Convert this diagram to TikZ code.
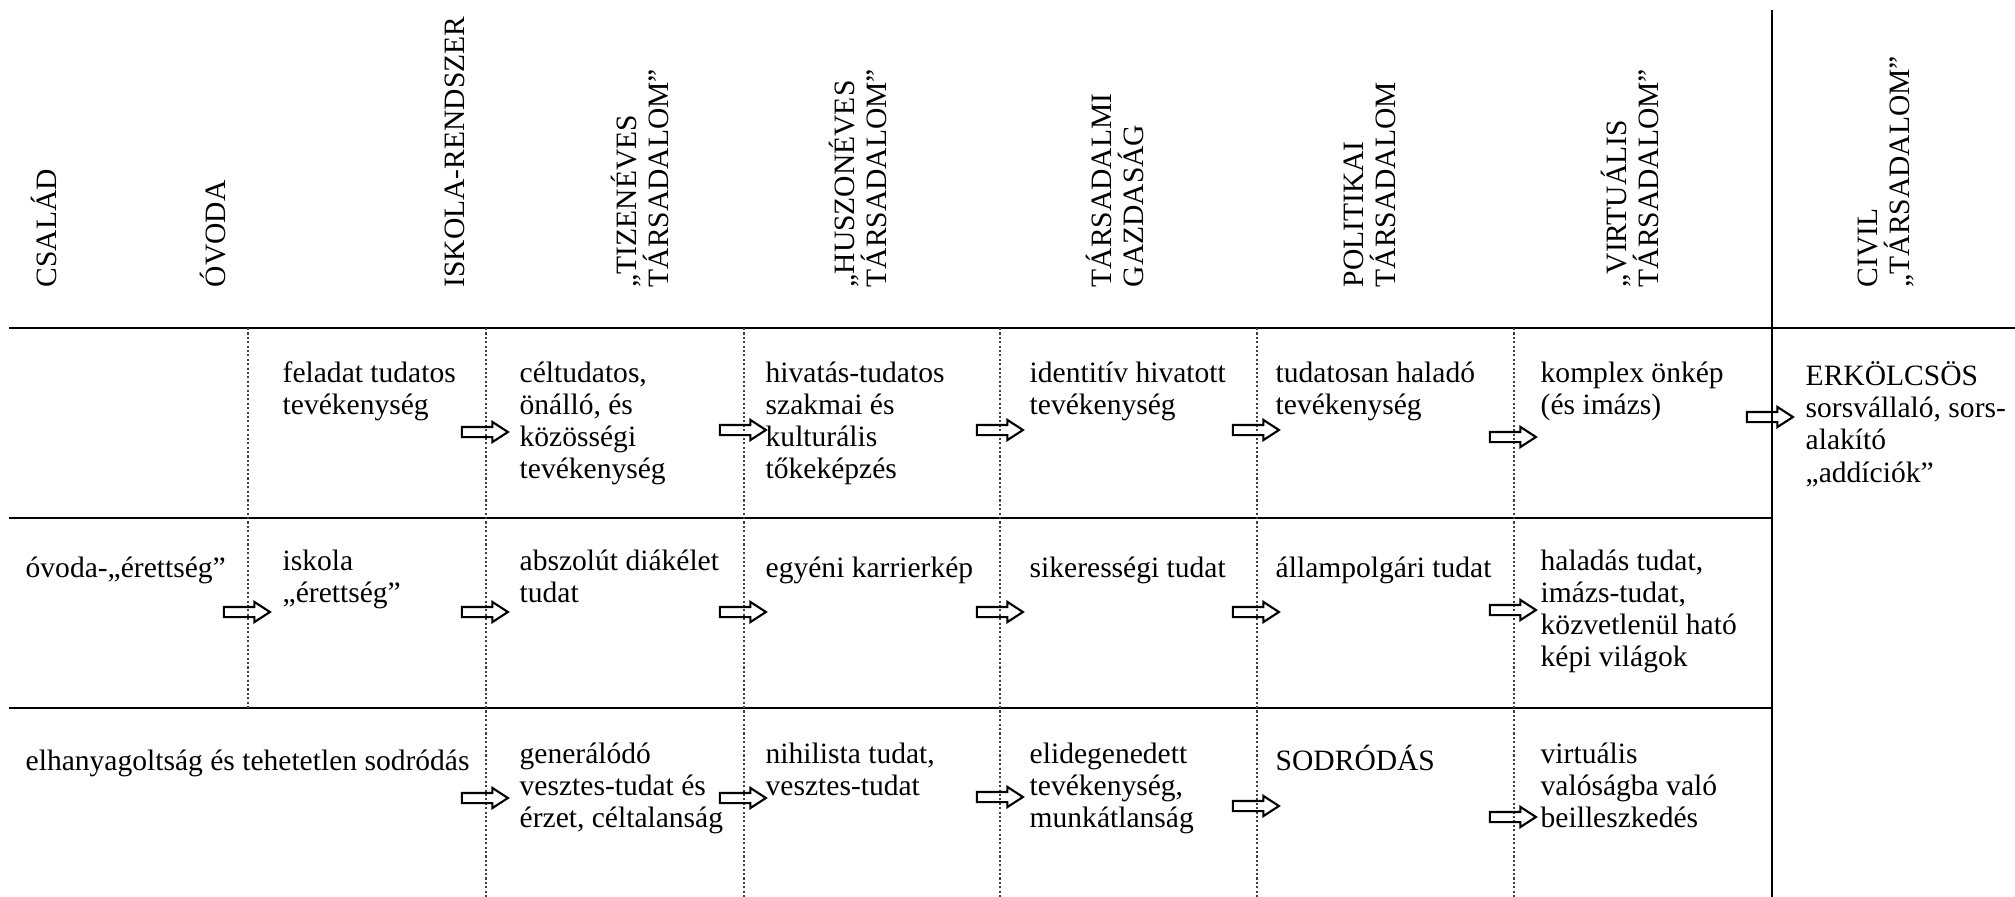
\documentclass[tikz,border=0pt]{standalone}
\usepackage{fontspec}
\setmainfont{Liberation Serif}
\usetikzlibrary{shapes.arrows}
\begin{document}
\begin{tikzpicture} [
                x=0.01cm, y=-0.01cm,
                every node/.style={font=\fontsize{8.4}{9.15}\selectfont, inner sep=0pt},
                head/.style={rotate=90, anchor=north west, align=left,
                    execute at begin node={\rule{0pt}{8pt}}},
                cell/.style={anchor=north west, yshift=8pt, align=left,
                    execute at begin node={\rule{0pt}{8pt}}},
                rule/.style={draw, line width=0.8pt},
                sep/.style={draw, line width=0.6pt, black!75, dash pattern=on 0.6pt off 0.65pt},
                shift arrow/.style={single arrow, draw, line width=0.6pt,
                    minimum height=0.46cm, inner xsep=0pt, inner ysep=0.04cm,
                    single arrow head extend=0.05cm, single arrow tip angle=66},
            ]
            \useasboundingbox (0,0) rectangle (2015,897);
            % First we draw the frame
            \coordinate (tl) at (9,328);
            \coordinate (tr) at (2015,328);
            \coordinate (civtop) at (1772,10);
            \coordinate (civbot) at (1772,897);
            \path[rule] (tl) -- (tr);
            \path[rule] (9,518) -- (1772,518);
            \path[rule] (9,708) -- (1772,708);
            \path[rule] (civtop) -- (civbot);
            % dotted column separators
            \path[sep] (248,328) -- (248,708);
            \foreach \x in {486, 744, 1000, 1257, 1514}
                \path[sep] (\x,328) -- (\x,897);
            % column heads
            \foreach \pos/\name/\txt in {
                    {(28,288)/csalad/CSALÁD}, {(197,288)/ovoda/ÓVODA},
                    {(436,288)/iskola/ISKOLA-RENDSZER},
                    {(610,288)/tizen/„TIZENÉVES\\TÁRSADALOM”},
                    {(828,288)/huszon/„HUSZONÉVES\\TÁRSADALOM”},
                    {(1085,288)/gazd/TÁRSADALMI\\GAZDASÁG},
                    {(1343,288)/polit/POLITIKAI\\TÁRSADALOM},
                    {(1600,288)/virt/„VIRTUÁLIS\\TÁRSADALOM”},
                    {(1857,288)/civil/CIVIL\\„TÁRSADALOM”}}
                \node[head] (\name) at \pos {\txt};
            % first row
            \node[cell] (a1) at (282,389) {feladat tudatos\\tevékenység};
            \node[cell] (a2) at (519,389) {céltudatos,\\önálló, és\\közösségi\\tevékenység};
            \node[cell] (a3) at (765,389) {hivatás-tudatos\\szakmai és\\kulturális\\tőkeképzés};
            \node[cell] (a4) at (1029,389) {identitív hivatott\\tevékenység};
            \node[cell] (a5) at (1275,389) {tudatosan haladó\\tevékenység};
            \node[cell] (a6) at (1540,389) {komplex önkép\\(és imázs)};
            \node[cell] (a7) at (1805,389) {ERKÖLCSÖS\\sorsvállaló, sors-\\alakító\\„addíciók”};
            % second row
            \node[cell] (b0) at (25,577) {óvoda-„érettség”};
            \node[cell] (b1) at (282,577) {iskola\\„érettség”};
            \node[cell] (b2) at (519,577) {abszolút diákélet\\tudat};
            \node[cell] (b3) at (765,577) {egyéni karrierkép};
            \node[cell] (b4) at (1029,577) {sikerességi tudat};
            \node[cell] (b5) at (1275,577) {állampolgári tudat};
            \node[cell] (b6) at (1540,577) {haladás tudat,\\imázs-tudat,\\közvetlenül ható\\képi világok};
            % third row
            \node[cell] (c0) at (25,770) {elhanyagoltság és tehetetlen sodródás};
            \node[cell] (c2) at (519,770) {generálódó\\vesztes-tudat és\\érzet, céltalanság};
            \node[cell] (c3) at (765,770) {nihilista tudat,\\vesztes-tudat};
            \node[cell] (c4) at (1029,770) {elidegenedett\\tevékenység,\\munkátlanság};
            \node[cell] (c5) at (1275,770) {SODRÓDÁS};
            \node[cell] (c6) at (1540,770) {virtuális\\valóságba való\\beilleszkedés};
            % block arrows over the separators
            \foreach \pos/\name in {
                    {(481,432)/ra2}, {(739,430)/ra3}, {(996,430)/ra4},
                    {(1252,430)/ra5}, {(1509,437)/ra6}, {(1766,417)/ra7},
                    {(243,612)/rb1}, {(481,612)/rb2}, {(739,612)/rb3},
                    {(996,612)/rb4}, {(1252,612)/rb5}, {(1509,610)/rb6},
                    {(481,798)/rc2}, {(739,798)/rc3}, {(996,797)/rc4},
                    {(1252,806)/rc5}, {(1509,817)/rc6}}
                \node[shift arrow] (\name) at \pos {};
        \end{tikzpicture}
\end{document}
